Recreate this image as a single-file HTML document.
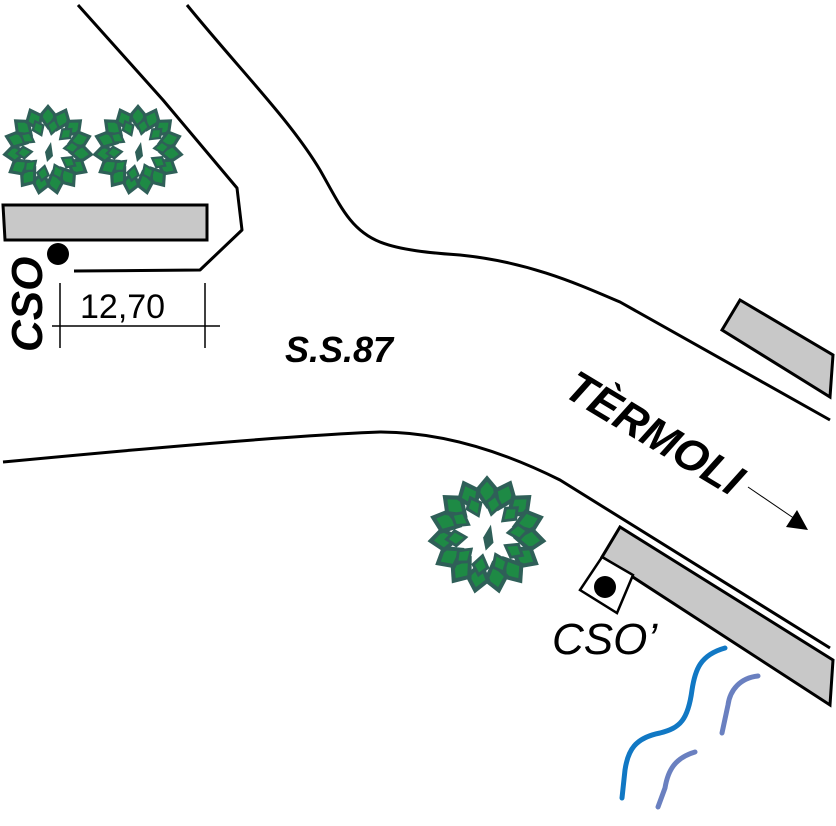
<!DOCTYPE html>
<html><head><meta charset="utf-8"><style>html,body{margin:0;padding:0;background:#fff}svg{display:block}</style></head><body>
<svg width="836" height="826" viewBox="0 0 836 826" xmlns="http://www.w3.org/2000/svg">
<defs>
<g id="leafring">
<path d="M0,-46 L10,-34 L0,-20 L-10,-34Z" fill="#2f5f58"/>
<path d="M0,-41 L6,-34 L0,-25 L-6,-34Z" fill="#1e8a45"/>
</g>
<g id="tree">
<use href="#leafring"/><use href="#leafring" transform="rotate(24)"/><use href="#leafring" transform="rotate(48)"/><use href="#leafring" transform="rotate(72)"/><use href="#leafring" transform="rotate(96)"/><use href="#leafring" transform="rotate(120)"/><use href="#leafring" transform="rotate(144)"/><use href="#leafring" transform="rotate(168)"/><use href="#leafring" transform="rotate(192)"/><use href="#leafring" transform="rotate(216)"/><use href="#leafring" transform="rotate(240)"/><use href="#leafring" transform="rotate(264)"/><use href="#leafring" transform="rotate(288)"/><use href="#leafring" transform="rotate(312)"/><use href="#leafring" transform="rotate(336)"/>
<g transform="scale(0.72) rotate(12)">
<use href="#leafring"/><use href="#leafring" transform="rotate(36)"/><use href="#leafring" transform="rotate(72)"/><use href="#leafring" transform="rotate(108)"/><use href="#leafring" transform="rotate(144)"/><use href="#leafring" transform="rotate(180)"/><use href="#leafring" transform="rotate(216)"/><use href="#leafring" transform="rotate(252)"/><use href="#leafring" transform="rotate(288)"/><use href="#leafring" transform="rotate(324)"/>
</g>
<path d="M-3,2 L3,-8 L5,6 L-1,12Z" fill="#2f5f58"/>
</g>
</defs>
<g fill="none" stroke="#000" stroke-width="3" stroke-linejoin="round">
<polyline points="78,5 163,100 237,188 242,230 200,270 74,271"/>
<path d="M187,5 C240,70 290,120 320,170 C340,205 350,230 380,242 C400,250 430,253 460,255 C530,262 580,285 620,302 L830,420"/>
<path d="M3,462 C150,448 300,435 380,432 C440,432 500,450 560,480 L830,648"/>
</g>
<polygon points="3,205 207,205 207,240 5,240" fill="#c8c8c8" stroke="#000" stroke-width="3"/>
<polygon points="740,300 833,355 830,397 722,330" fill="#c8c8c8" stroke="#000" stroke-width="3"/>
<polygon points="620,527 833,660 830,705 602,557" fill="#c8c8c8" stroke="#000" stroke-width="3"/>
<polygon points="602,557 633,575 617,613 580,590" fill="#fff" stroke="#000" stroke-width="2.5"/>
<circle cx="605" cy="587" r="11" fill="#000"/>
<circle cx="58" cy="254" r="11" fill="#000"/>
<g stroke="#000" stroke-width="1.5">
<line x1="60" y1="283" x2="60" y2="348"/><line x1="205" y1="283" x2="205" y2="348"/><line x1="52" y1="326" x2="220" y2="326"/>
</g>
<text x="80" y="318" font-family="Liberation Sans, sans-serif" font-size="34" fill="#000">12,70</text>
<text transform="translate(42,352) rotate(-90)" font-family="Liberation Sans, sans-serif" font-size="44" font-weight="bold" font-style="italic" fill="#000">CSO</text>
<text x="285" y="362" font-family="Liberation Sans, sans-serif" font-size="36" font-weight="bold" font-style="italic" fill="#000">S.S.87</text>
<text transform="translate(562,395) rotate(31)" font-family="Liberation Sans, sans-serif" font-size="44" font-weight="bold" font-style="italic" fill="#000">TÈRMOLI</text>
<text x="552" y="654" font-family="Liberation Sans, sans-serif" font-size="44" font-style="italic" fill="#000">CSO’</text>
<line x1="748" y1="487" x2="795" y2="519" stroke="#000" stroke-width="1"/>
<polygon points="808,530 786,527 797,510" fill="#000"/>
<use href="#tree" transform="translate(48,150)"/>
<use href="#tree" transform="translate(138,150)"/>
<use href="#tree" transform="translate(487,535) scale(1.3)"/>
<g fill="none" stroke-width="5" stroke-linecap="round" stroke-linejoin="round">
<path d="M725,648 C700,655 695,670 692,690 C688,720 680,728 660,733 C635,738 628,750 625,770 L622,798" stroke="#1178c4"/>
<path d="M758,676 C740,678 730,690 728,705 L722,733" stroke="#6a80c0"/>
<path d="M695,752 C675,758 668,770 665,788 L658,807" stroke="#6a80c0"/>
</g>
</svg>
</body></html>
